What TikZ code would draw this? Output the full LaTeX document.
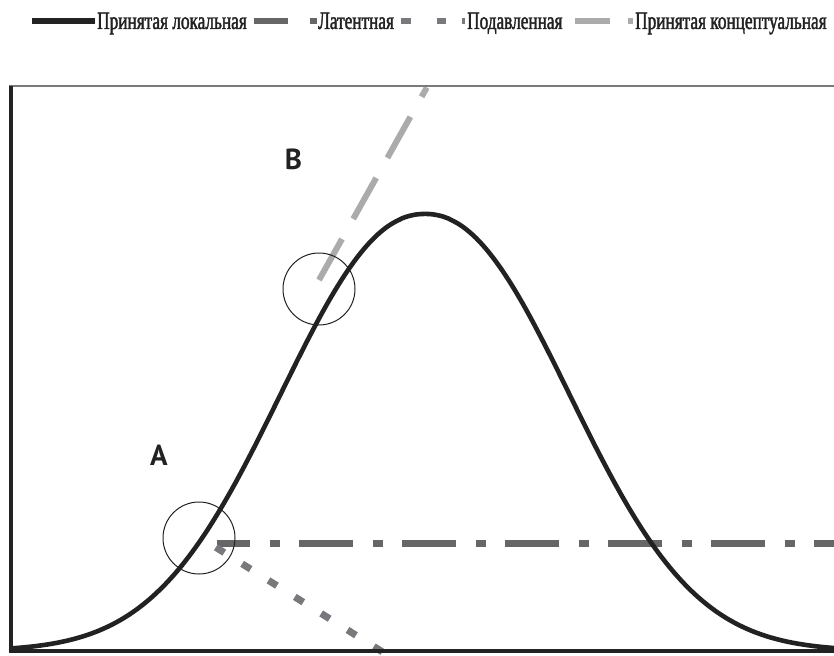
\documentclass[tikz,border=0pt]{standalone}
\usepackage{fontspec}
\newfontfamily\legfont[FakeStretch=0.69, FakeBold=1.6]{Liberation Serif}
\newfontfamily\labfont{PT Sans Bold}
\definecolor{curveblack}{HTML}{222222}
\definecolor{latgray}{HTML}{666666}
\definecolor{supgray}{HTML}{78787D}
\definecolor{congray}{HTML}{ABABAB}
\definecolor{framegray}{HTML}{7A7A7A}
\tikzset{
  curveline/.style={line width=4.6pt, draw=curveblack, line join=round},
  latline/.style={line width=7pt, draw=latgray, dash pattern=on 54pt off 19.5pt on 10pt off 19.5pt, dash phase=21pt},
  supline/.style={line width=7pt, draw=supgray, dash pattern=on 10pt off 21.1pt},
  conline/.style={line width=6pt, draw=congray, dash pattern=on 47pt off 23pt},
  ring/.style={circle, draw=curveblack, line width=1pt, minimum size=72pt, inner sep=0pt},
  letter/.style={font=\labfont\fontsize{29}{34}\selectfont, anchor=base, inner sep=0pt, text=curveblack},
  legtext/.style={font=\legfont\fontsize{25}{30}\selectfont, anchor=base west, inner sep=0pt, text=curveblack},
  legsample/.style={line width=5.5pt},
}
\begin{document}
\begin{tikzpicture}[x=1pt,y=-1pt]
\useasboundingbox (0,0) rectangle (834,655);
% legend
\coordinate (k1a) at (32,21); \coordinate (k1b) at (95,21);
\draw[legsample, curveblack] (k1a) -- (k1b);
\node[legtext] (t1) at (97,29) {Принятая локальная};
\coordinate (k2a) at (254,21); \coordinate (k2b) at (288,21);
\coordinate (k2c) at (310,21); \coordinate (k2d) at (317,21);
\draw[legsample, latgray] (k2a) -- (k2b) (k2c) -- (k2d);
\node[legtext] (t2) at (318,29) {Латентная};
\coordinate (k3a) at (401,21); \coordinate (k3b) at (411,21);
\coordinate (k3c) at (437,21); \coordinate (k3d) at (446,21);
\coordinate (k3e) at (462,21); \coordinate (k3f) at (465,21);
\draw[legsample, supgray] (k3a) -- (k3b) (k3c) -- (k3d) (k3e) -- (k3f);
\node[legtext] (t3) at (467,29) {Подавленная};
\coordinate (k4a) at (575,21); \coordinate (k4b) at (610,21);
\coordinate (k4c) at (628,21); \coordinate (k4d) at (633,21);
\draw[legsample, congray] (k4a) -- (k4b) (k4c) -- (k4d);
\node[legtext] (t4) at (635,29) {Принятая концептуальная};
% frame corners
\coordinate (tl) at (10.7,86);
\coordinate (bl) at (10.7,651);
\coordinate (tr) at (834,86);
\coordinate (br) at (834,651);
% auxiliary lines
\coordinate (latS) at (217,543); \coordinate (latE) at (834,543);
\draw[latline] (latS) -- (latE);
\coordinate (supS) at (215.8,547.3); \coordinate (supE) at (382.3,651.8);
\draw[supline] (supS) -- (supE);
\coordinate (conS) at (319,280); \coordinate (conE) at (426.8,87.5);
\draw[conline] (conS) -- (conE);
% bell curve
\draw[curveline] plot[domain=11:834, samples=300]
  (\x, {651 - 437*exp(-pow((abs(\x-425)+0.01)/193.7, 2.15))});
% frame
\draw[line width=2pt, framegray] (9,86) -- (tr);
\draw[line width=4pt, curveblack] (tl) -- (bl);
\draw[line width=4.5pt, curveblack] (8.7,651) -- (br);
% circles
\node[ring] (ringA) at (199,538) {};
\node[ring] (ringB) at (319,289) {};
% labels
\node[letter] (labA) at (159,465) {A};
\node[letter] (labB) at (293.5,169.5) {B};
\end{tikzpicture}
\end{document}
